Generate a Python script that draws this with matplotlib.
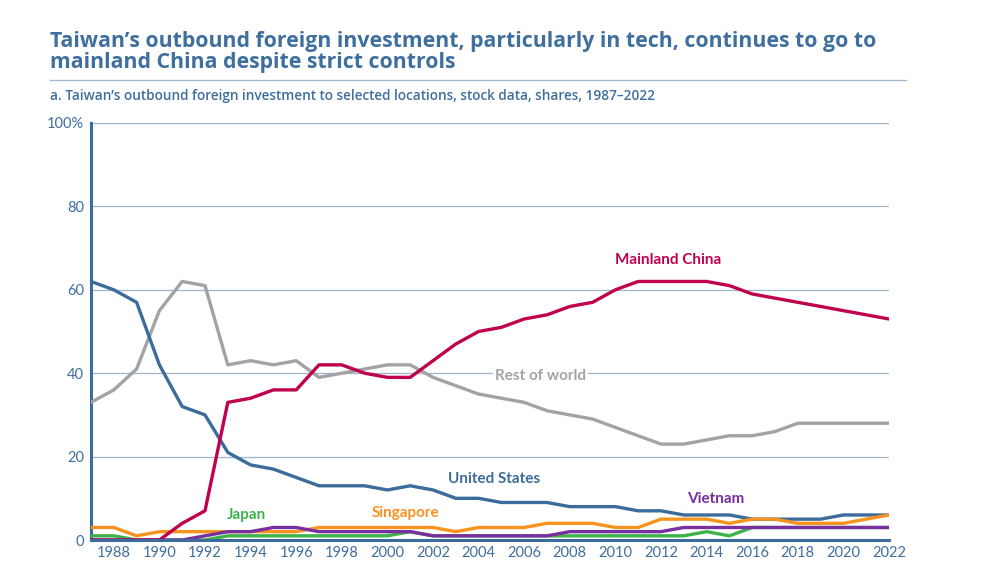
import matplotlib
matplotlib.use("Agg")
import matplotlib.pyplot as plt

years = list(range(1987, 2023))
united_states = [62, 60, 57, 42, 32, 30, 21, 18, 17, 15, 13, 13, 13, 12, 13, 12, 10, 10, 9, 9,
                 9, 8, 8, 8, 7, 7, 6, 6, 6, 5, 5, 5, 5, 6, 6, 6]
mainland_china = [0, 0, 0, 0, 4, 7, 33, 34, 36, 36, 42, 42, 40, 39, 39, 43, 47, 50, 51, 53,
                  54, 56, 57, 60, 62, 62, 62, 62, 61, 59, 58, 57, 56, 55, 54, 53]
rest_of_world = [33, 36, 41, 55, 62, 61, 42, 43, 42, 43, 39, 40, 41, 42, 42, 39, 37, 35, 34, 33,
                 31, 30, 29, 27, 25, 23, 23, 24, 25, 25, 26, 28, 28, 28, 28, 28]
singapore = [3, 3, 1, 2, 2, 2, 2, 2, 2, 2, 3, 3, 3, 3, 3, 3, 2, 3, 3, 3,
             4, 4, 4, 3, 3, 5, 5, 5, 4, 5, 5, 4, 4, 4, 5, 6]
japan = [1, 1, 0, 0, 0, 0, 1, 1, 1, 1, 1, 1, 1, 1, 2, 1, 1, 1, 1, 1,
         1, 1, 1, 1, 1, 1, 1, 2, 1, 3, 3, 3, 3, 3, 3, 3]
vietnam = [0, 0, 0, 0, 0, 1, 2, 2, 3, 3, 2, 2, 2, 2, 2, 1, 1, 1, 1, 1,
           1, 2, 2, 2, 2, 2, 3, 3, 3, 3, 3, 3, 3, 3, 3, 3]
y_ticks = [0, 20, 40, 60, 80, 100]
y_tick_labels = ["0", "20", "40", "60", "80", "100%"]
x_ticks = list(range(1988, 2023, 2))

title_line1 = "Taiwan’s outbound foreign investment, particularly in tech, continues to go to"
title_line2 = "mainland China despite strict controls"
subtitle = "a. Taiwan’s outbound foreign investment to selected locations, stock data, shares, 1987–2022"

C_US = "#3b6c9b"
C_CN = "#c0024e"
C_ROW = "#a3a3a3"
C_SG = "#f7931e"
C_JP = "#3bb34a"
C_VN = "#7a2fa0"
C_TEXT = "#3f6f9f"
C_GRID = "#9fb5ca"

plt.rcParams['font.family'] = ['Lato', 'DejaVu Sans']

fig = plt.figure(figsize=(9.84, 5.70), dpi=100)
ax = fig.add_axes([91/984, 30/570, (889-91)/984, (540-123)/570])

lw = 2.4
ax.plot(years, rest_of_world, color=C_ROW, lw=lw, zorder=3)
ax.plot(years, united_states, color=C_US, lw=lw, zorder=4)
ax.plot(years, mainland_china, color=C_CN, lw=lw, zorder=5)
ax.plot(years, japan, color=C_JP, lw=lw, zorder=3.5)
ax.plot(years, singapore, color=C_SG, lw=lw, zorder=4.5)
ax.plot(years, vietnam, color=C_VN, lw=lw, zorder=4.6)

ax.set_xlim(1987, 2022)
ax.set_ylim(0, 100)
ax.set_yticks(y_ticks)
ax.set_yticklabels(y_tick_labels)
ax.set_xticks(x_ticks)
ax.set_xticklabels([str(x) for x in x_ticks])
ax.tick_params(axis='both', length=0, labelsize=10.5, labelcolor=C_TEXT, pad=4)
ax.tick_params(axis='y', pad=5)
ax.yaxis.grid(True, color=C_GRID, lw=0.9, zorder=0)
ax.set_axisbelow(True)
for s in ['top', 'right']:
    ax.spines[s].set_visible(False)
ax.spines['left'].set_color(C_US)
ax.spines['left'].set_linewidth(2.2)
ax.spines['bottom'].set_color(C_US)
ax.spines['bottom'].set_linewidth(2.2)
ax.spines['bottom'].set_zorder(6)

lab = dict(fontsize=11, fontweight='bold', ha='center', va='center')
ax.text(2012.3, 67.1, "Mainland China", color=C_CN, **lab)
ax.text(2006.7, 39.3, "Rest of world", color=C_ROW,
        bbox=dict(facecolor='white', edgecolor='none', pad=1.5), zorder=2, **lab)
ax.text(2004.7, 14.6, "United States", color=C_US, **lab)
ax.text(2000.8, 6.5, "Singapore", color=C_SG, **lab)
ax.text(1993.8, 6.0, "Japan", color=C_JP, **lab)
ax.text(2014.4, 9.8, "Vietnam", color=C_VN, **lab)

tkw = dict(ha='left', va='baseline', fontsize=15.3, fontweight='bold',
           color=C_TEXT, family='Open Sans')
fig.text(50/984, 1 - 47/570, title_line1, **tkw)
fig.text(50/984, 1 - 68/570, title_line2, **tkw)
fig.add_artist(plt.Line2D([50/984, 906/984], [1 - 80/570, 1 - 80/570],
                          color=C_GRID, lw=0.9, transform=fig.transFigure))
fig.text(50/984, 1 - 100/570, subtitle, ha='left', va='baseline', fontsize=9.8,
         fontweight='semibold', color=C_TEXT, family='Open Sans')

fig.savefig("out.png", dpi=100)
